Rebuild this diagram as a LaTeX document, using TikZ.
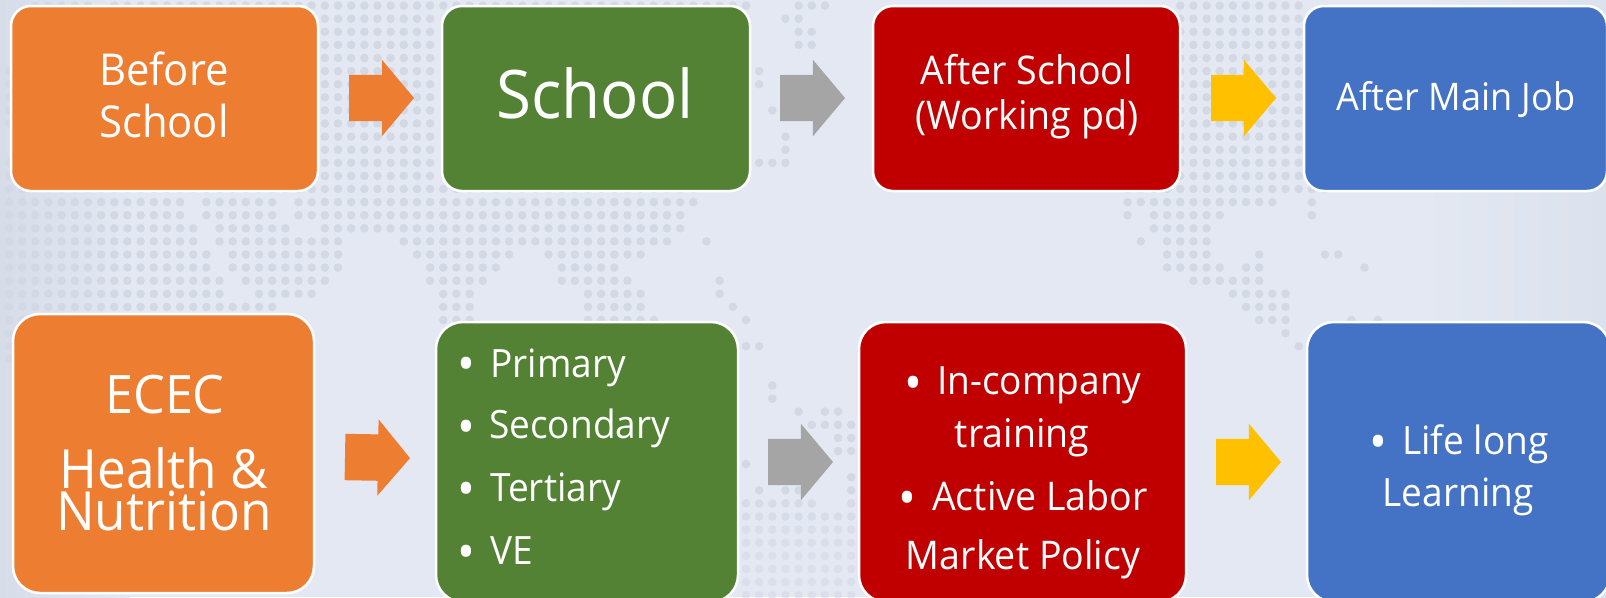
\documentclass[tikz,border=0pt]{standalone}
\usepackage{fontspec}
\setmainfont[FakeStretch=0.95]{Open Sans}
\usetikzlibrary{shapes.arrows}
\definecolor{bgbase}{HTML}{E3E8F3}
\definecolor{bgedge}{HTML}{D6DDE9}
\definecolor{bgedgeR}{HTML}{DCE2ED}
\definecolor{dotc}{HTML}{D3D8E5}
\definecolor{cOrange}{HTML}{ED7D31}
\definecolor{cGreen}{HTML}{548235}
\definecolor{cRed}{HTML}{C00000}
\definecolor{cBlue}{HTML}{4472C4}
\definecolor{cGray}{HTML}{A5A5A5}
\definecolor{cYellow}{HTML}{FFC000}
\tikzset{
  panel/.style={draw=white,line width=2.5pt,rounded corners=#1,inner sep=0pt,outer sep=0pt,anchor=north west},
  panel/.default=20pt,
  blockarrow/.style={single arrow,draw=none,fill=#1,inner xsep=0pt,inner ysep=23pt,outer sep=0pt,anchor=tail,
    minimum height=65pt,minimum width=76pt,single arrow head extend=15pt,
    single arrow tip angle=100,single arrow head indent=0pt},
  lbl/.style={text=white,inner sep=0pt,anchor=base},
  lblw/.style={text=white,inner sep=0pt,anchor=base west},
  bul/.style={text=white,inner sep=0pt,anchor=base,font=\fontsize{50}{50}\selectfont}
}
\newcommand{\fs}[1]{\fontsize{#1}{#1}\selectfont}
\newcommand{\dotrow}[3][1]{%
  \foreach \a/\b in {#3}{\foreach \i in {\a,...,\b}{%
    \fill[dotc,opacity=#1] ({9+13.16*\i},{189+13.1*#2}) circle[radius=4.3pt];}}}
\begin{document}
\begin{tikzpicture}[x=1pt,y=-1pt]
\useasboundingbox (0,0) rectangle (1606,597);
\clip (0,0) rectangle (1606,597);
% background
\fill[bgbase] (0,0) rectangle (1606,597);
\shade[left color=bgedge,right color=bgbase] (0,0) rectangle (130,597);
\shade[left color=bgbase,right color=bgedgeR] (1420,0) rectangle (1606,597);
% world-map dots
\dotrow{-14}{2/6,8/56,60/62,89/98}
\dotrow{-13}{24/32,59/60,89/98}
\dotrow{-12}{24/32,60/61,89/98}
\dotrow{-11}{24/32,60/61,89/98}
\dotrow{-10}{24/32,89/98}
\dotrow{-9}{0/0,24/32,57/57,89/98}
\dotrow{-8}{0/0,24/32,57/57,89/98}
\dotrow{-7}{0/0,24/32,89/98}
\dotrow{-6}{0/0,24/32,58/59,89/98}
\dotrow{-5}{0/0,24/32,89/98}
\dotrow{-4}{24/32,59/59,89/98}
\dotrow{-3}{24/32,59/59,89/98}
\dotrow{-2}{0/0,24/32,57/59,89/98}
\dotrow{-1}{0/0,24/32,89/98}
\dotrow{0}{0/52,85/100}
\dotrow{1}{0/13,15/20,22/52,85/96,99/99}
\dotrow{2}{0/13,15/20,22/51,85/85,87/92,99/99}
\dotrow{3}{0/14,16/21,24/51,87/91}
\dotrow{4}{0/14,16/25,30/50,53/53,86/86,88/91}
\dotrow{5}{0/15,17/25,31/38,41/48,88/91,95/95,100/101}
\dotrow{6}{0/15,17/25,32/37,42/46,88/92,94/95,103/103}
\dotrow{7}{0/16,18/24,32/36,42/47,54/54,90/95}
\dotrow{8}{0/16,19/23,33/35,44/48,54/54,93/97}
\dotrow{9}{0/20,33/35,44/48,55/55,94/97}
\dotrow{10}{0/20,33/35,44/49,56/56,95/97,102/102,104/104}
\dotrow{11}{0/0,97/97}
\dotrow{12}{0/0,56/57,98/98}
\dotrow{13}{0/0}
\dotrow{15}{58/58}
\dotrow{16}{58/58}
\dotrow{17}{60/60,62/63}
\dotrow{18}{61/64}
\dotrow{19}{63/64}
\dotrow{20}{63/64}
\dotrow{21}{56/56}
\dotrow{22}{64/64}
\dotrow{23}{57/57,59/60,64/64}
\dotrow[.8]{24}{56/61,64/64}
\dotrow[.7]{25}{56/64}
\dotrow[.6]{26}{56/64}
\dotrow[.6]{27}{56/64}
\dotrow[.5]{28}{56/64}
\dotrow[.5]{29}{56/64}
\dotrow[.5]{30}{56/64}
\dotrow[.5]{31}{56/64}
% top row panels
\node[panel,fill=cOrange,minimum width=307pt,minimum height=185pt] (before) at (11,6) {};
\node[panel,fill=cGreen,minimum width=308pt,minimum height=185pt] (school) at (442,6) {};
\node[panel,fill=cRed,minimum width=307pt,minimum height=185pt] (after) at (873,6) {};
\node[panel,fill=cBlue,minimum width=303pt,minimum height=185pt] (mainjob) at (1304,6) {};
% bottom row panels
\node[panel=27pt,fill=cOrange,minimum width=301pt,minimum height=279pt] (ecec) at (13,314) {};
\node[panel=27pt,fill=cGreen,minimum width=302pt,minimum height=280pt] (levels) at (436,322) {};
\node[panel=27pt,fill=cRed,minimum width=327pt,minimum height=280pt] (training) at (859,322) {};
\node[panel=27pt,fill=cBlue,minimum width=303pt,minimum height=280pt] (lifelong) at (1307,322) {};
% block arrows
\node[blockarrow=cOrange] (a1) at (349,98) {};
\node[blockarrow=cGray] (a2) at (780,98) {};
\node[blockarrow=cYellow] (a3) at (1211,98) {};
\node[blockarrow=cOrange,rotate=-1] (a4) at (345,457) {};
\node[blockarrow=cGray] (a5) at (768,462) {};
\node[blockarrow=cYellow] (a6) at (1216,462) {};
% top labels
\node[lbl,font=\fs{44}] (t1) at (164,85) {Before};
\node[lbl,font=\fs{44}] (t2) at (164,137) {School};
\node[lbl,font=\fs{67}] (t3) at (595,118) {School};
\node[lbl,font=\fs{39.5}] (t4) at (1027,84) {After School};
\node[lbl,font=\fs{39.5}] (t5) at (1027,129) {(Working pd)};
\node[lbl,font=\fs{38}] (t6) at (1456,110) {After Main Job};
% ECEC
\node[lbl,font=\fs{53}] (t7) at (165,413) {ECEC};
\node[lbl,font=\fs{54}] (t8) at (164,488) {Health \&};
\node[lbl,font=\fs{54}] (t9) at (164,530) {Nutrition};
% school levels
\node[bul] (b1) at (466,381) {•};
\node[bul] (b2) at (466,444) {•};
\node[bul] (b3) at (466,506) {•};
\node[bul] (b4) at (466,569) {•};
\node[lblw,font=\fs{39}] (t10) at (490,377) {Primary};
\node[lblw,font=\fs{39}] (t11) at (489,438) {Secondary};
\node[lblw,font=\fs{39}] (t12) at (490,501) {Tertiary};
\node[lblw,font=\fs{39}] (t13) at (490,564) {VE};
% training
\node[bul] (b5) at (913,400) {•};
\node[lblw,font=\fs{39}] (t14) at (937,394) {In-company};
\node[lbl,font=\fs{39.5}] (t15) at (1022,447) {training};
\node[bul] (b6) at (907,515) {•};
\node[lblw,font=\fs{39.5}] (t16) at (932,510) {Active Labor};
\node[lbl,font=\fs{39.5}] (t17) at (1023,569) {Market Policy};
% life long
\node[bul] (b7) at (1378,459) {•};
\node[lblw,font=\fs{39}] (t18) at (1402,454) {Life long};
\node[lbl,font=\fs{39}] (t19) at (1458,506) {Learning};
\end{tikzpicture}
\end{document}
